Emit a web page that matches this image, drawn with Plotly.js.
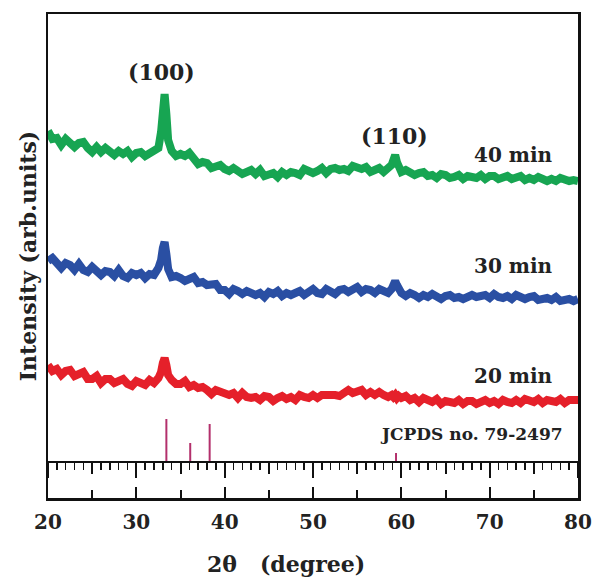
<!DOCTYPE html>
<html>
<head>
<meta charset="utf-8">
<script src="https://cdn.plot.ly/plotly-3.0.1.min.js"></script>
<style>html,body{margin:0;padding:0;background:#fff}#chart{width:595px;height:579px}</style>
</head>
<body>
<div id="chart"></div>
<script>
// 2θ positions (degrees)
const twoTheta = [20,20.5,21,21.5,22,22.5,23,23.5,24,24.5,25,25.5,26,26.5,27,27.5,28,28.5,29,29.5,30,30.5,31,31.5,32,32.5,
  32.8,33.0,33.2,33.4,33.6,
  34,34.5,35,35.5,36,36.5,37,37.5,38,38.5,39,39.5,40,40.5,41,41.5,42,42.5,43,43.5,44,44.5,45,45.5,46,46.5,47,47.5,48,48.5,49,49.5,50,50.5,51,51.5,52,52.5,53,53.5,54,54.5,55,55.5,56,56.5,57,57.5,58,58.5,
  58.9,59.1,59.3,59.5,59.7,
  60,60.5,61,61.5,62,62.5,63,63.5,64,64.5,65,65.5,66,66.5,67,67.5,68,68.5,69,69.5,70,70.5,71,71.5,72,72.5,73,73.5,74,74.5,75,75.5,76,76.5,77,77.5,78,78.5,79,79.5,80];

// Intensities (arb. units, offset per curve)
const int40 = [331,323,324,317,323,319,315,319,320,314,310,315,310,314,310,307,311,308,311,305,309,310,306,309,313,314,
  330,355,368,348,322,
  311,306,308,306,309,303,298,300,299,294,295,297,293,291,294,292,288,290,292,288,292,286,288,289,285,290,287,290,289,287,293,291,289,291,294,289,293,294,292,293,291,296,295,293,295,290,292,294,290,293,
  297,302,307,300,294,
  290,292,289,287,289,290,286,287,284,288,287,284,285,287,283,286,285,284,287,283,286,286,283,284,286,283,284,286,282,284,282,285,283,281,283,281,284,282,281,282,281];

const int30 = [201,204,199,194,199,197,192,198,192,190,195,191,187,191,190,186,192,186,184,189,187,189,184,188,187,194,
  202,214,220,208,193,
  185,186,184,181,183,185,179,180,177,178,178,172,172,168,173,171,168,171,169,167,169,165,170,168,171,166,169,167,169,171,167,171,173,169,168,173,171,168,172,173,170,172,175,170,173,172,169,173,171,169,
  173,178,181,177,171,
  169,166,169,167,164,167,165,168,166,163,166,167,164,165,163,166,167,165,166,167,164,168,165,164,166,163,167,164,163,165,166,162,164,164,162,165,161,162,163,161,163];

const int20 = [97,91,93,87,91,92,86,87,90,83,83,86,79,83,83,79,80,83,78,76,81,79,77,82,79,84,
  90,99,104,97,87,
  82,78,78,81,75,77,74,75,72,68,72,70,67,67,69,64,69,65,64,65,62,66,65,61,64,66,63,65,62,67,65,64,67,64,67,67,69,67,66,70,72,69,70,72,67,70,67,70,67,65,
  67,65,67,64,66,
  64,66,62,64,60,64,61,60,63,58,61,60,59,62,58,61,61,58,60,62,59,61,58,62,60,59,62,59,63,61,60,63,59,62,61,60,63,59,62,61,62];

// Reference pattern (JCPDS no. 79-2497)
const refPos = [33.4, 36.1, 38.3, 59.4];
const refInt = [43, 19, 38, 9];

const seriesNames = ['40 min', '30 min', '20 min'];
const xTickVals = [20, 30, 40, 50, 60, 70, 80];

const stickX = [], stickY = [];
refPos.forEach((p, i) => { stickX.push(p, p, null); stickY.push(0, refInt[i], null); });

const FONT = 'DejaVu Serif, Liberation Serif, serif';
const TXT = '#222222';

const traces = [
  {x: twoTheta, y: int40, name: seriesNames[0], type: 'scatter', mode: 'lines', xaxis: 'x', yaxis: 'y',
   line: {color: '#17a552', width: 8}},
  {x: twoTheta, y: int30, name: seriesNames[1], type: 'scatter', mode: 'lines', xaxis: 'x', yaxis: 'y',
   line: {color: '#2a4fa3', width: 8}},
  {x: twoTheta, y: int20, name: seriesNames[2], type: 'scatter', mode: 'lines', xaxis: 'x3', yaxis: 'y',
   line: {color: '#e5202a', width: 8}},
  {x: stickX, y: stickY, name: 'JCPDS', type: 'scatter', mode: 'lines', xaxis: 'x2', yaxis: 'y',
   line: {color: '#b3306c', width: 2}}
];

function ann(text, px, py, size) {
  return {text: text, xref: 'paper', yref: 'paper', x: (px - 48) / 530, y: (498 - py) / 484,
    xanchor: 'center', yanchor: 'middle', showarrow: false,
    font: {family: FONT, size: size, color: TXT, weight: 'bold'}};
}

const layout = {
  width: 595, height: 579,
  margin: {l: 48, r: 17, t: 14, b: 81},
  paper_bgcolor: '#ffffff', plot_bgcolor: '#ffffff',
  showlegend: false,
  xaxis: {range: [20, 80], tickvals: xTickVals, ticktext: xTickVals.map(String),
    showline: true, mirror: true, linecolor: '#111', linewidth: 2.5,
    ticks: 'inside', ticklen: 11, tickwidth: 2, tickcolor: '#111', ticklabelstandoff: 4,
    minor: {dtick: 5, tick0: 20, ticks: 'inside', ticklen: 8, tickwidth: 2, tickcolor: '#111', showgrid: false},
    showgrid: false, zeroline: false,
    tickfont: {family: FONT, size: 20, color: TXT, weight: 'bold'}},
  xaxis2: {range: [20, 80], overlaying: 'x', anchor: 'free', position: 36 / 484, side: 'bottom',
    showline: true, linecolor: '#111', linewidth: 2,
    ticks: 'outside', dtick: 5, tick0: 20, ticklen: 11, tickwidth: 2, tickcolor: '#111',
    minor: {dtick: 1, ticks: 'outside', ticklen: 7, tickwidth: 1.5, tickcolor: '#111', showgrid: false},
    showticklabels: false, showgrid: false, zeroline: false},
  xaxis3: {range: [20, 80], overlaying: 'x', anchor: 'free', position: 36 / 484, side: 'bottom',
    showline: false, ticks: 'outside', dtick: 10, tick0: 20, ticklen: 15, tickwidth: 2, tickcolor: '#111',
    showticklabels: false, showgrid: false, zeroline: false},
  yaxis: {range: [-36, 448], showline: true, mirror: true, linecolor: '#111', linewidth: 2.5,
    ticks: '', showticklabels: false, showgrid: false, zeroline: false,
    title: {text: 'Intensity (arb.units)', standoff: 3,
      font: {family: FONT, size: 22, color: TXT, weight: 'bold'}}},
  annotations: [
    ann('(100)', 161, 72, 22),
    ann('(110)', 394.5, 136, 22),
    ann('40 min', 513, 155, 20),
    ann('30 min', 513, 265.5, 20),
    ann('20 min', 513, 375.5, 20),
    ann('JCPDS no. 79-2497', 471.5, 433.5, 17),
    ann('2θ\u00a0\u00a0\u00a0(degree)', 286, 564, 22)
  ]
};

Plotly.newPlot('chart', traces, layout, {staticPlot: true, displayModeBar: false});
</script>
</body>
</html>
